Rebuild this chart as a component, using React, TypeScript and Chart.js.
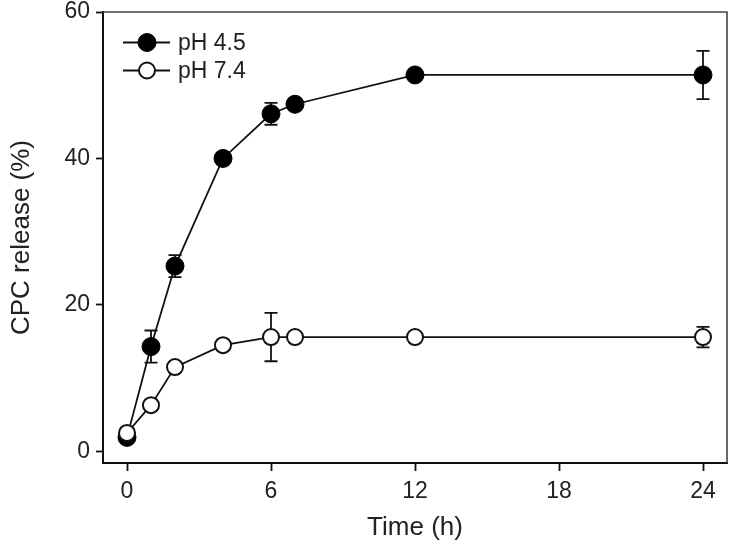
import React, { useEffect, useRef } from 'react';
import { Chart, registerables } from 'chart.js';

Chart.register(...registerables);

const times = [0, 1, 2, 4, 6, 7, 12, 24];
const ph45 = [1.9, 14.3, 25.3, 40.0, 46.1, 47.4, 51.4, 51.4];
const ph45Err = [0.5, 2.2, 1.5, 0.8, 1.5, 0.8, 0.6, 3.3];
const ph74 = [2.5, 6.3, 11.5, 14.5, 15.6, 15.6, 15.6, 15.6];
const ph74Err = [0.3, 0.5, 0.5, 0.5, 3.3, 0.5, 0.3, 1.4];
const xTicks = [0, 6, 12, 18, 24];
const yTicks = [0, 20, 40, 60];
const seriesLabels = ['pH 4.5', 'pH 7.4'];
const xTitle = 'Time (h)';
const yTitle = 'CPC release (%)';

const FONT = "'Liberation Sans', Arial, Helvetica, sans-serif";
const INK = '#111';
const TEXT = '#222';

const errorBarPlugin = {
  id: 'errorBars',
  beforeDatasetsDraw(chart: any) {
    const { ctx, scales } = chart;
    const x = scales.x;
    const y = scales.y;
    chart.data.datasets.forEach((ds: any) => {
      const errs: number[] = ds.errors;
      if (!errs) return;
      ctx.save();
      ctx.strokeStyle = INK;
      ctx.lineWidth = 1.8;
      ds.data.forEach((pt: any, j: number) => {
        const e = errs[j];
        if (!e) return;
        const px = x.getPixelForValue(pt.x);
        const yt = y.getPixelForValue(pt.y + e);
        const yb = y.getPixelForValue(pt.y - e);
        const cap = 6.5;
        ctx.beginPath();
        ctx.moveTo(px, yt);
        ctx.lineTo(px, yb);
        ctx.moveTo(px - cap, yt);
        ctx.lineTo(px + cap, yt);
        ctx.moveTo(px - cap, yb);
        ctx.lineTo(px + cap, yb);
        ctx.stroke();
      });
      ctx.restore();
    });
  },
};

const framePlugin = {
  id: 'frame',
  beforeDatasetsDraw(chart: any) {
    const { ctx, chartArea } = chart;
    ctx.save();
    ctx.strokeStyle = '#444';
    ctx.lineWidth = 1.6;
    ctx.beginPath();
    ctx.moveTo(chartArea.left, chartArea.top);
    ctx.lineTo(chartArea.right, chartArea.top);
    ctx.lineTo(chartArea.right, chartArea.bottom);
    ctx.stroke();
    ctx.restore();
  },
};

const legendPlugin = {
  id: 'customLegend',
  afterDraw(chart: any) {
    const { ctx, chartArea } = chart;
    const order = [0, 1];
    ctx.save();
    order.forEach((di, k) => {
      const ds = chart.data.datasets[di];
      const cy = chartArea.top + 30.5 + k * 28;
      const x0 = chartArea.left + 20;
      const x1 = chartArea.left + 67;
      const mx = chartArea.left + 44;
      ctx.strokeStyle = ds.borderColor;
      ctx.lineWidth = ds.borderWidth;
      ctx.beginPath();
      ctx.moveTo(x0, cy);
      ctx.lineTo(x1, cy);
      ctx.stroke();
      ctx.beginPath();
      ctx.arc(mx, cy, ds.pointRadius, 0, Math.PI * 2);
      ctx.fillStyle = ds.pointBackgroundColor;
      ctx.fill();
      ctx.lineWidth = ds.pointBorderWidth;
      ctx.strokeStyle = ds.pointBorderColor;
      ctx.stroke();
      ctx.fillStyle = TEXT;
      ctx.font = `23px ${FONT}`;
      ctx.textBaseline = 'middle';
      ctx.textAlign = 'left';
      ctx.fillText(ds.label, chartArea.left + 75, cy + 1);
    });
    ctx.restore();
  },
};

export default function App() {
  const ref = useRef<HTMLCanvasElement>(null);

  useEffect(() => {
    if (!ref.current) return;
    const chart = new Chart(ref.current, {
      type: 'line',
      data: {
        datasets: [
          {
            label: seriesLabels[0],
            data: times.map((t, i) => ({ x: t, y: ph45[i] })),
            errors: ph45Err,
            borderColor: INK,
            borderWidth: 1.8,
            pointRadius: 9,
            pointHoverRadius: 9,
            pointBackgroundColor: '#000',
            pointBorderColor: '#000',
            pointBorderWidth: 1,
            fill: false,
            tension: 0,
            order: 1,
          } as any,
          {
            label: seriesLabels[1],
            data: times.map((t, i) => ({ x: t, y: ph74[i] })),
            errors: ph74Err,
            borderColor: INK,
            borderWidth: 1.8,
            pointRadius: 8,
            pointHoverRadius: 8,
            pointBackgroundColor: '#fff',
            pointBorderColor: INK,
            pointBorderWidth: 2,
            fill: false,
            tension: 0,
            order: 0,
          } as any,
        ],
      },
      options: {
        responsive: false,
        animation: false,
        events: [],
        layout: { autoPadding: false, padding: { top: 12, right: 2, left: 0, bottom: 0 } },
        plugins: {
          legend: { display: false },
          tooltip: { enabled: false },
        },
        scales: {
          x: {
            type: 'linear',
            min: -1,
            max: 25,
            afterBuildTicks: (s: any) => {
              s.ticks = xTicks.map((v) => ({ value: v }));
            },
            afterFit: (s: any) => {
              s.height = 87;
              s.paddingLeft = 0;
              s.paddingRight = 0;
            },
            grid: {
              drawOnChartArea: false,
              drawTicks: true,
              tickLength: 8,
              tickWidth: 1.8,
              tickColor: INK,
            },
            border: { display: true, color: INK, width: 2 },
            ticks: {
              font: { size: 23, family: FONT, lineHeight: 1 },
              color: TEXT,
              padding: 9,
              maxRotation: 0,
              autoSkip: false,
            },
            title: {
              display: true,
              text: xTitle,
              font: { size: 26, family: FONT },
              color: TEXT,
              padding: { top: 0, bottom: 7 },
            },
          },
          y: {
            type: 'linear',
            min: -1.6,
            max: 60,
            afterBuildTicks: (s: any) => {
              s.ticks = yTicks.map((v) => ({ value: v }));
            },
            afterFit: (s: any) => {
              s.width = 103;
              s.paddingTop = 0;
              s.paddingBottom = 0;
            },
            grid: {
              drawOnChartArea: false,
              drawTicks: true,
              tickLength: 7,
              tickWidth: 1.8,
              tickColor: INK,
            },
            border: { display: true, color: INK, width: 2 },
            ticks: {
              font: { size: 23, family: FONT, lineHeight: 1 },
              color: TEXT,
              padding: 6,
              autoSkip: false,
            },
            title: {
              display: true,
              text: yTitle,
              font: { size: 26, family: FONT },
              color: TEXT,
              padding: { top: 6, bottom: 0 },
            },
          },
        },
      } as any,
      plugins: [framePlugin, errorBarPlugin, legendPlugin],
    });
    return () => chart.destroy();
  }, []);

  return (
    <div style={{ position: 'absolute', left: 0, top: 0, width: 729, height: 550, background: '#fff' }}>
      <canvas ref={ref} width={729} height={550} style={{ display: 'block' }} />
    </div>
  );
}
